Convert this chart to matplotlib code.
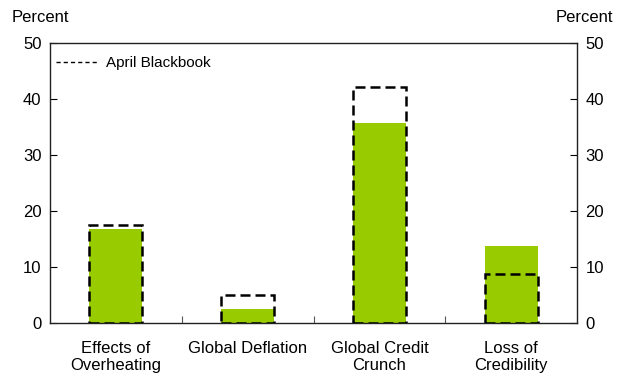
import numpy as np
import matplotlib.pyplot as plt
from matplotlib.lines import Line2D

plt.rcParams['font.family'] = ['Liberation Sans', 'DejaVu Sans']

# data
categories = ['Effects of\nOverheating', 'Global Deflation', 'Global Credit\nCrunch', 'Loss of\nCredibility']
current = [16.7, 2.5, 35.7, 13.8]
april = [17.4, 5.0, 42.2, 8.7]

x = np.arange(len(categories))

fig = plt.figure(figsize=(6.24, 3.81), dpi=100)
ax = fig.add_axes([0.080, 0.153, 0.845, 0.734])

ax.bar(x, current, width=0.4, color='#99CC00', zorder=2)
ax.bar(x, april, width=0.4, fill=False, edgecolor='black', linestyle=(0, (4, 2)),
       linewidth=1.8, zorder=3)

ax.set_xlim(-0.5, 3.5)
ax.set_ylim(0, 50)
ax.set_yticks([0, 10, 20, 30, 40, 50])
ax.tick_params(axis='y', direction='in', length=5, labelsize=12, right=True, labelright=True,
               pad=6, width=0.8)
ax.set_xticks(x)
ax.set_xticklabels(categories, fontsize=12, linespacing=1.2)
ax.tick_params(axis='x', length=0, pad=13)
ax.set_xticks([0.5, 1.5, 2.5], minor=True)
ax.tick_params(axis='x', which='minor', direction='in', length=5, width=0.8, color='#555555')
for s in ax.spines.values():
    s.set_linewidth(1.0)
    s.set_color('#222222')

fig.text(0.018, 0.953, 'Percent', fontsize=12, va='center', ha='left')
fig.text(0.982, 0.953, 'Percent', fontsize=12, va='center', ha='right')

handle = Line2D([0], [0], color='black', linestyle=(0, (3, 2.2)), linewidth=1.0)
ax.legend([handle], ['April Blackbook'], loc='upper left', frameon=False, fontsize=11,
          handlelength=2.7, handletextpad=0.55, borderaxespad=0.0, bbox_to_anchor=(0.0, 0.975))

fig.savefig('out.png', dpi=100)
